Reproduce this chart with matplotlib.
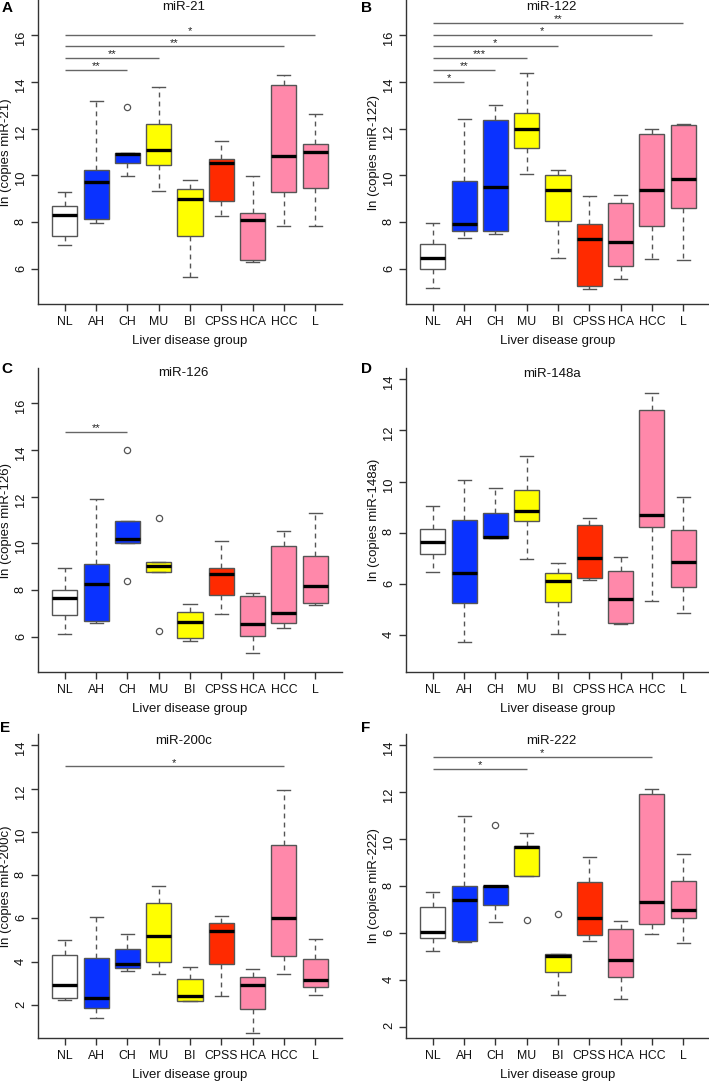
"""Box plots of miRNA levels per liver disease group (panels A-F)."""
import matplotlib
matplotlib.use("Agg")
import matplotlib.pyplot as plt

plt.rcParams["font.family"] = ["Liberation Sans", "DejaVu Sans"]

GROUPS = ["NL", "AH", "CH", "MU", "BI", "CPSS", "HCA", "HCC", "L"]
BOX_COLORS = ["#ffffff", "#0a32ff", "#0a32ff", "#ffff00", "#ffff00",
              "#ff2a00", "#ff88aa", "#ff88aa", "#ff88aa"]

# (lower whisker, Q1, median, Q3, upper whisker) per group
mir21 = [(7.05, 7.40, 8.31, 8.69, 9.28), (7.97, 8.14, 9.71, 10.23, 13.19),
         (9.97, 10.53, 10.92, 10.97, 10.97), (9.35, 10.44, 11.09, 12.21, 13.75),
         (5.65, 7.44, 8.98, 9.42, 9.82), (8.29, 8.89, 10.54, 10.72, 11.49),
         (6.30, 6.38, 8.12, 8.40, 9.97), (7.85, 9.31, 10.84, 13.86, 14.29),
         (7.85, 9.47, 10.98, 11.32, 12.61)]
mir21_out = {2: [12.9]}
mir21_sig = [(2, 14.5, "**"), (3, 15.0, "**"), (7, 15.5, "**"), (8, 16.0, "*")]

mir122 = [(5.19, 6.00, 6.50, 7.08, 7.99), (7.35, 7.62, 7.92, 9.75, 12.40),
          (7.50, 7.65, 9.50, 12.35, 13.00), (10.05, 11.15, 11.98, 12.65, 14.38),
          (6.47, 8.05, 9.37, 10.00, 10.22), (5.15, 5.30, 7.28, 7.95, 9.12),
          (5.58, 6.16, 7.17, 8.82, 9.15), (6.43, 7.85, 9.37, 11.75, 11.98),
          (6.40, 8.63, 9.87, 12.15, 12.20)]
mir122_out = {}
mir122_sig = [(1, 14.0, "*"), (2, 14.5, "**"), (3, 15.0, "***"), (4, 15.5, "*"),
              (7, 16.0, "*"), (8, 16.5, "**")]

mir126 = [(6.14, 6.94, 7.67, 8.03, 8.95), (6.62, 6.70, 8.28, 9.12, 11.90),
          (10.00, 10.00, 10.20, 10.97, 10.97), (8.77, 8.77, 9.05, 9.20, 9.20),
          (5.86, 5.97, 6.67, 7.06, 7.43), (7.00, 7.79, 8.68, 8.94, 10.10),
          (5.35, 6.06, 6.58, 7.76, 7.89), (6.40, 6.60, 7.04, 9.89, 10.54),
          (7.39, 7.46, 8.20, 9.46, 11.28)]
mir126_out = {2: [14.0, 8.4], 3: [11.08, 6.26]}
mir126_sig = [(2, 14.77, "**")]

mir148a = [(6.47, 7.19, 7.63, 8.13, 9.05), (3.73, 5.27, 6.43, 8.50, 10.06),
           (7.80, 7.80, 7.84, 8.78, 9.76), (6.99, 8.45, 8.86, 9.67, 11.02),
           (4.03, 5.29, 6.11, 6.42, 6.83), (6.17, 6.22, 7.03, 8.31, 8.58),
           (4.43, 4.46, 5.41, 6.52, 7.05), (5.34, 8.22, 8.69, 12.79, 13.46),
           (4.86, 5.87, 6.86, 8.10, 9.38)]
mir148a_out = {}
mir148a_sig = []

mir200c = [(2.23, 2.32, 2.94, 4.31, 5.00), (1.40, 1.86, 2.33, 4.17, 6.05),
           (3.57, 3.73, 3.90, 4.60, 5.30), (3.43, 3.97, 5.18, 6.70, 7.50),
           (2.20, 2.20, 2.42, 3.20, 3.77), (2.40, 3.90, 5.42, 5.80, 6.13),
           (0.70, 1.82, 2.95, 3.30, 3.65), (3.43, 4.27, 6.00, 9.40, 11.92),
           (2.48, 2.82, 3.18, 4.12, 5.05)]
mir200c_out = {}
mir200c_sig = [(7, 13.03, "*")]

mir222 = [(5.25, 5.79, 6.03, 7.10, 7.75), (5.60, 5.65, 7.40, 8.01, 10.99),
          (6.45, 7.20, 8.00, 8.01, 8.01), (8.43, 8.43, 9.67, 9.72, 10.28),
          (3.35, 4.35, 5.00, 5.10, 5.10), (5.65, 5.92, 6.63, 8.17, 9.22),
          (3.18, 4.10, 4.83, 6.16, 6.50), (5.95, 6.40, 7.33, 11.92, 12.15),
          (5.58, 6.62, 6.97, 8.20, 9.38)]
mir222_out = {2: [10.58], 3: [6.53], 4: [6.80]}
mir222_sig = [(3, 13.0, "*"), (7, 13.5, "*")]

FIG_W, FIG_H = 709, 1083
fig = plt.figure(figsize=(FIG_W / 100, FIG_H / 100), dpi=100)
fig.patch.set_facecolor("white")

AX_COLOR = "#333333"
EDGE = "#555555"

# letter, title, stats, outliers, sig bars, ylim, yticks, axes (left, top) in px
panels = [
    ("A", "miR-21", mir21, mir21_out, mir21_sig, (5, 17), range(6, 17, 2), (38, 0)),
    ("B", "miR-122", mir122, mir122_out, mir122_sig, (5, 17), range(6, 17, 2), (406, 0)),
    ("C", "miR-126", mir126, mir126_out, mir126_sig, (5, 17), range(6, 17, 2), (38, 368)),
    ("D", "miR-148a", mir148a, mir148a_out, mir148a_sig, (3, 14), range(4, 15, 2), (406, 368)),
    ("E", "miR-200c", mir200c, mir200c_out, mir200c_sig, (1, 14), range(2, 15, 2), (38, 734)),
    ("F", "miR-222", mir222, mir222_out, mir222_sig, (2, 14), range(2, 15, 2), (406, 734)),
]
AX_W, AX_H = 304, 304
letter_pos = {"A": (7, 8), "B": (366, 8), "C": (7, 369), "D": (366, 369),
              "E": (5, 728), "F": (366, 728)}
# title baseline, px below the top of the axes
title_base = {"A": 10.5, "B": 10.5, "C": 8, "D": 9, "E": 9.5, "F": 10}

for letter, title, stats, outliers, sig, ylim, yticks, (left, top) in panels:
    ax = fig.add_axes([left / FIG_W, 1 - (top + AX_H) / FIG_H, AX_W / FIG_W, AX_H / FIG_H])

    bxp_stats = []
    for i, (lo, q1, med, q3, hi) in enumerate(stats):
        bxp_stats.append(dict(whislo=lo, q1=q1, med=med, q3=q3, whishi=hi,
                              fliers=outliers.get(i, []), label=GROUPS[i]))
    pos = list(range(1, len(GROUPS) + 1))
    bp = ax.bxp(bxp_stats, positions=pos, widths=0.8, patch_artist=True,
                capwidths=0.42,
                boxprops=dict(edgecolor=EDGE, linewidth=1.0),
                medianprops=dict(color="black", linewidth=2.4, solid_capstyle="butt"),
                whiskerprops=dict(color=EDGE, linewidth=1.0, linestyle=(0, (3.5, 3))),
                capprops=dict(color=EDGE, linewidth=1.0),
                flierprops=dict(marker="o", markerfacecolor="none",
                                markeredgecolor=EDGE, markersize=4.5, markeredgewidth=0.9))
    for patch, col in zip(bp["boxes"], BOX_COLORS):
        patch.set_facecolor(col)

    # significance bars from NL to the compared group
    for j, y, stars in sig:
        ax.hlines(y, 1, j + 1, color="#666666", linewidth=1.0)
        ax.text((1 + j + 1) / 2, y + 0.03, stars, ha="center", va="baseline",
                fontsize=8, color="#222222")

    lo_, hi_ = ylim
    pad = (hi_ - lo_) * 0.04
    ax.set_ylim(lo_ - pad, hi_ + pad)
    ax.set_xlim(0.5 - 0.36, 9.5 + 0.36)
    ax.set_yticks(list(yticks))
    ax.set_xticks(pos)
    ax.set_xticklabels(GROUPS)

    for s in ("top", "right"):
        ax.spines[s].set_visible(False)
    for s in ("left", "bottom"):
        ax.spines[s].set_color(AX_COLOR)
        ax.spines[s].set_linewidth(1.0)
    ax.tick_params(axis="both", direction="out", length=5, width=1.0,
                   color=AX_COLOR, labelsize=8.8, labelcolor="#111111")
    ax.tick_params(axis="x", pad=3.5)
    ax.tick_params(axis="y", labelrotation=90, pad=3, labelsize=9.3)

    ax.text(4.8, 1 - title_base[letter] / AX_H, title, ha="center", va="baseline",
            fontsize=9.5, color="#111111", transform=ax.get_xaxis_transform())
    ax.set_xlabel("Liver disease group", fontsize=9.5, color="#111111")
    ax.xaxis.set_label_coords(0.5, -0.103)
    ax.set_ylabel("ln (copies %s)" % title, fontsize=9.5, color="#111111")
    ax.yaxis.set_label_coords(-0.084, 0.5)

    lx, ly = letter_pos[letter]
    fig.text(lx / FIG_W, 1 - ly / FIG_H, letter, ha="center", va="center",
             fontsize=11, fontweight="bold", color="black")

fig.savefig("out.png", dpi=100, facecolor="white")
